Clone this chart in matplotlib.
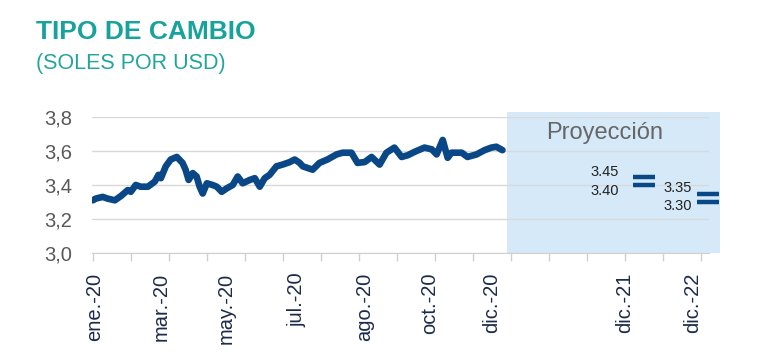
import matplotlib.pyplot as plt
from matplotlib.patches import Rectangle

plt.rcParams['font.family'] = ['Liberation Sans', 'DejaVu Sans']

# posición en meses desde ene.-20 y tipo de cambio observado
meses = [0.0, 0.08, 0.26, 0.39, 0.58, 0.74, 0.92, 1.00, 1.13, 1.26, 1.45, 1.63,
         1.73, 1.79, 1.92, 2.05, 2.21, 2.36, 2.44, 2.52, 2.63, 2.73, 2.81, 2.89,
         3.00, 3.15, 3.26, 3.39, 3.52, 3.68, 3.81, 3.94, 4.13, 4.26, 4.39, 4.52,
         4.65, 4.83, 4.99, 5.18, 5.31, 5.44, 5.52, 5.78, 5.96, 6.17, 6.41, 6.57,
         6.80, 6.96, 7.15, 7.33, 7.54, 7.72, 7.93, 8.12, 8.28, 8.46, 8.72, 8.91,
         9.04, 9.20, 9.33, 9.43, 9.70, 9.85, 10.09, 10.30, 10.48, 10.61, 10.77]
tc = [3.31, 3.32, 3.33, 3.32, 3.31, 3.335, 3.37, 3.36, 3.40, 3.39, 3.39, 3.42,
      3.46, 3.44, 3.51, 3.55, 3.565, 3.53, 3.49, 3.43, 3.47, 3.45, 3.39, 3.35,
      3.41, 3.40, 3.39, 3.36, 3.38, 3.40, 3.45, 3.41, 3.43, 3.44, 3.39, 3.44,
      3.46, 3.51, 3.52, 3.535, 3.55, 3.53, 3.51, 3.49, 3.53, 3.55, 3.58, 3.59,
      3.59, 3.53, 3.535, 3.565, 3.52, 3.59, 3.62, 3.565, 3.575, 3.595, 3.62, 3.61,
      3.58, 3.665, 3.56, 3.59, 3.59, 3.565, 3.58, 3.605, 3.62, 3.625, 3.605]

# proyecciones (rango) para dic.-21 y dic.-22
proy_pos = [14.48, 16.18]
proy_alto = [3.45, 3.35]
proy_bajo = [3.40, 3.30]

etiquetas = ['ene.-20', 'mar.-20', 'may.-20', 'jul.-20', 'ago.-20', 'oct.-20',
             'dic.-20', 'dic.-21', 'dic.-22']
etiq_pos = [0.05, 1.81, 3.52, 5.36, 7.15, 8.85, 10.48, 13.98, 15.76]

azul = '#0a4786'

fig = plt.figure(figsize=(7.84, 3.6), dpi=100)
ax = fig.add_axes([92 / 784, 1 - 253 / 360, (709 - 92) / 784, (253 - 117) / 360])

# zona de proyección
ax.add_patch(Rectangle((10.88, 3.0), 16.5 - 10.88, 0.83, facecolor='#d5e9f8',
                       edgecolor='none', zorder=0.2, clip_on=False))
ax.text(13.45, 3.706, 'Proyección', fontsize=17, color='#666666',
        ha='center', va='center')

ax.plot(meses, tc, color=azul, lw=4.8, solid_capstyle='round',
        solid_joinstyle='round', zorder=3)

for x, a, b in zip(proy_pos, proy_alto, proy_bajo):
    ax.plot([x, x], [a, b], ls='none', marker='_', ms=16, mew=3.2,
            color=azul, clip_on=False, zorder=4)
ax.annotate('3.45', (proy_pos[0], proy_alto[0]), xytext=(-25, 5),
            textcoords='offset pixels', ha='right', va='center', fontsize=10.5, color='#222222')
ax.annotate('3.40', (proy_pos[0], proy_bajo[0]), xytext=(-25, -6),
            textcoords='offset pixels', ha='right', va='center', fontsize=10.5, color='#222222')
ax.annotate('3.35', (proy_pos[1], proy_alto[1]), xytext=(-16, 6),
            textcoords='offset pixels', ha='right', va='center', fontsize=10.5, color='#222222')
ax.annotate('3.30', (proy_pos[1], proy_bajo[1]), xytext=(-16, -4),
            textcoords='offset pixels', ha='right', va='center', fontsize=10.5, color='#222222')

ax.set_xlim(-0.02, 16.2)
ax.set_ylim(3.0, 3.8)
ax.set_yticks([3.0, 3.2, 3.4, 3.6, 3.8])
ax.set_yticklabels(['3,0', '3,2', '3,4', '3,6', '3,8'])
ax.tick_params(axis='y', length=0, pad=14, labelsize=14.5, labelcolor='#595959')
ax.grid(axis='y', color='#d9d9d9', lw=1)
ax.set_axisbelow(True)

ax.set_xticks(etiq_pos)
ax.set_xticklabels(etiquetas, rotation=90)
ax.set_xticks(range(17), minor=True)
ax.tick_params(axis='x', which='major', length=0, pad=14, labelsize=14.5,
               labelcolor='#1c2b4a')
ax.tick_params(axis='x', which='minor', length=6, color='#d0d0d0', width=1)

for s in ['top', 'right', 'left']:
    ax.spines[s].set_visible(False)
ax.spines['bottom'].set_color('#d0d0d0')

fig.text(36 / 784, 1 - 32 / 360, 'TIPO DE CAMBIO', fontsize=19, fontweight='bold',
         color='#17a39b', va='center', ha='left')
fig.text(36 / 784, 1 - 64 / 360, '(SOLES POR USD)', fontsize=15.5,
         color='#23a59d', va='center', ha='left')

fig.savefig('out.png', dpi=100)
